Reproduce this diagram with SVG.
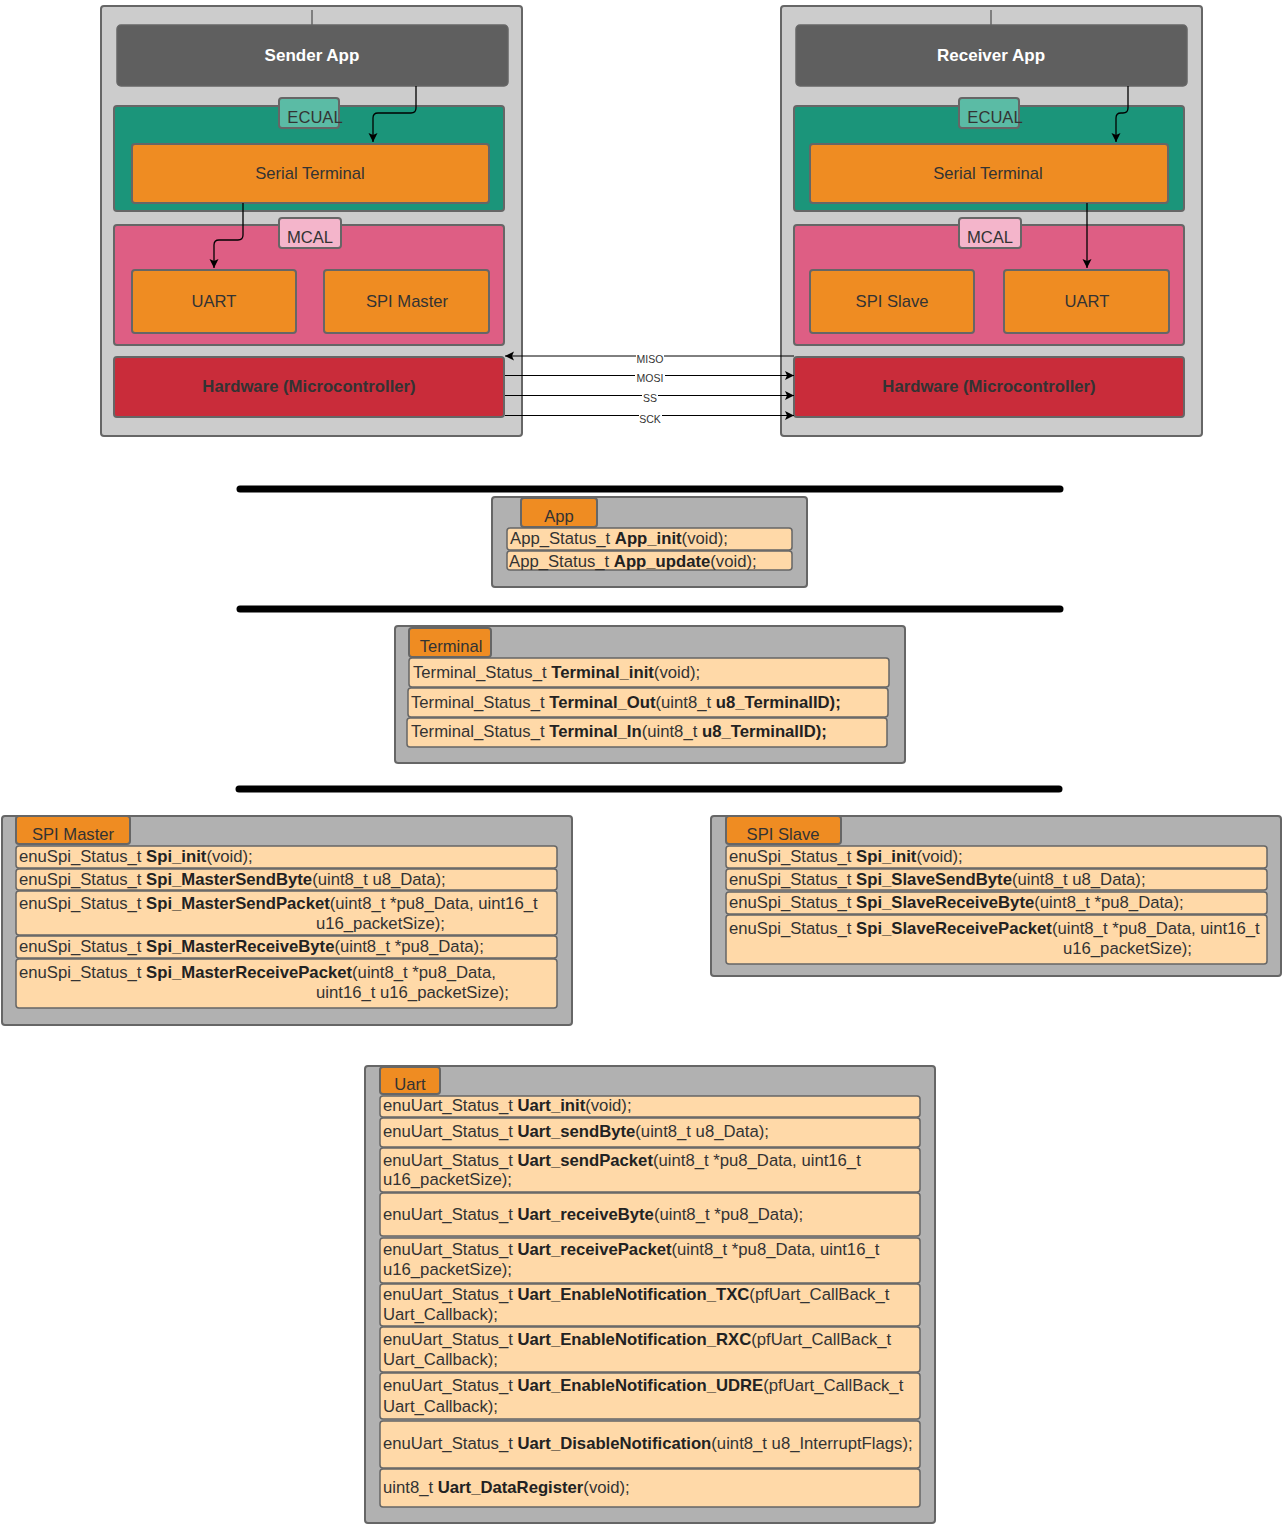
<svg xmlns="http://www.w3.org/2000/svg" width="1283" height="1525" viewBox="0 0 1283 1525">
  <defs>
    <style>
      text { font-family: "Liberation Sans", Arial, Helvetica, sans-serif; fill: #333333; }
      .outer { fill: #CCCCCC; stroke: #666666; stroke-width: 2; }
      .app { fill: #5F5F5F; stroke: #666666; stroke-width: 1.5; }
      .ecual { fill: #1B957A; stroke: #666666; stroke-width: 2; }
      .ecual-tag { fill: #5BBBA5; stroke: #666666; stroke-width: 2; }
      .mcal { fill: #DE5E84; stroke: #666666; stroke-width: 2; }
      .mcal-tag { fill: #F4B5CB; stroke: #666666; stroke-width: 2; }
      .mod { fill: #EF8C22; stroke: #666666; stroke-width: 2; }
      .hw { fill: #C92C3A; stroke: #666666; stroke-width: 2; }
      .lbl { font-size: 16.6px; text-anchor: middle; }
      .title { font-size: 17px; font-weight: bold; fill: #FFFFFF; text-anchor: middle; }
      .hwtxt { font-size: 16.7px; font-weight: bold; text-anchor: middle; }
      .conn { fill: none; stroke: #000000; stroke-width: 1.3; }
      .wire { fill: none; stroke: #000000; stroke-width: 1; }
      .wlbl { font-size: 10.5px; text-anchor: middle; }
      .bar { stroke: #000000; stroke-width: 7; stroke-linecap: round; }
      .panel { fill: #B1B1B1; stroke: #666666; stroke-width: 2; }
      .tab { fill: #EF8C22; stroke: #666666; stroke-width: 2; }
      .row { fill: #FFD9A8; stroke: #666666; stroke-width: 1.5; }
      .fn { font-size: 16.7px; }
      .b { font-weight: bold; fill: #222222; }
      .tabtxt { font-size: 16.6px; text-anchor: middle; }
    </style>
    <marker id="arr" markerUnits="userSpaceOnUse" markerWidth="10" markerHeight="10" refX="9" refY="5" orient="auto">
      <path d="M0,0.5 L9,5 L0,9.5 L2,5 Z" fill="#000000"/>
    </marker>
  </defs>

  <!-- Sender side -->
  <g id="sender">
    <rect class="outer" x="101" y="6" width="421" height="430" rx="3"/>
    <line x1="312" y1="10" x2="312" y2="25" stroke="#666666" stroke-width="1.5"/>
    <rect class="app" x="117" y="25" width="391" height="61" rx="4"/>
    <text class="title" x="312" y="61">Sender App</text>
    <rect class="ecual" x="114" y="106" width="390" height="105" rx="3"/>
    <rect class="ecual-tag" x="279" y="98" width="60" height="30" rx="3"/>
    <text class="lbl" x="315" y="123">ECUAL</text>
    <rect class="mod" x="132" y="144" width="357" height="59" rx="3"/>
    <text class="lbl" x="310" y="179">Serial Terminal</text>
    <rect class="mcal" x="114" y="225" width="390" height="120" rx="3"/>
    <rect class="mcal-tag" x="279" y="218" width="62" height="30" rx="3"/>
    <text class="lbl" x="310" y="243">MCAL</text>
    <rect class="mod" x="132" y="270" width="164" height="63" rx="3"/>
    <text class="lbl" x="214" y="307">UART</text>
    <rect class="mod" x="324" y="270" width="165" height="63" rx="3"/>
    <text class="lbl" x="407" y="307">SPI Master</text>
    <rect class="hw" x="114" y="357" width="390" height="60" rx="3"/>
    <text class="hwtxt" x="309" y="392">Hardware (Microcontroller)</text>
  </g>

  <!-- Receiver side -->
  <g id="receiver">
    <rect class="outer" x="781" y="6" width="421" height="430" rx="3"/>
    <line x1="991" y1="10" x2="991" y2="25" stroke="#666666" stroke-width="1.5"/>
    <rect class="app" x="796" y="25" width="391" height="61" rx="4"/>
    <text class="title" x="991" y="61">Receiver App</text>
    <rect class="ecual" x="794" y="106" width="390" height="105" rx="3"/>
    <rect class="ecual-tag" x="959" y="98" width="60" height="30" rx="3"/>
    <text class="lbl" x="995" y="123">ECUAL</text>
    <rect class="mod" x="810" y="144" width="358" height="59" rx="3"/>
    <text class="lbl" x="988" y="179">Serial Terminal</text>
    <rect class="mcal" x="794" y="225" width="390" height="120" rx="3"/>
    <rect class="mcal-tag" x="959" y="218" width="62" height="30" rx="3"/>
    <text class="lbl" x="990" y="243">MCAL</text>
    <rect class="mod" x="810" y="270" width="164" height="63" rx="3"/>
    <text class="lbl" x="892" y="307">SPI Slave</text>
    <rect class="mod" x="1004" y="270" width="165" height="63" rx="3"/>
    <text class="lbl" x="1087" y="307">UART</text>
    <rect class="hw" x="794" y="357" width="390" height="60" rx="3"/>
    <text class="hwtxt" x="989" y="392">Hardware (Microcontroller)</text>
  </g>

  <!-- Connectors -->
  <g id="connectors">
    <path class="conn" d="M416 86 V108 Q416 113 411 113 H378 Q373 113 373 118 V142" marker-end="url(#arr)"/>
    <path class="conn" d="M243 203 V235 Q243 240 238 240 H219 Q214 240 214 245 V268" marker-end="url(#arr)"/>
    <path class="conn" d="M1128 86 V108 Q1128 113 1123 113 H1121 Q1116 113 1116 118 V142" marker-end="url(#arr)"/>
    <path class="conn" d="M1087 203 V268" marker-end="url(#arr)"/>

    <path class="wire" d="M794 356 H505" marker-end="url(#arr)"/>
    <path class="wire" d="M505 375.5 H794" marker-end="url(#arr)"/>
    <path class="wire" d="M505 395.5 H794" marker-end="url(#arr)"/>
    <path class="wire" d="M505 415.5 H794" marker-end="url(#arr)"/>
    <rect x="636" y="352" width="28" height="12" fill="#FFFFFF"/>
    <text class="wlbl" x="650" y="362.5">MISO</text>
    <rect x="635" y="372" width="30" height="12" fill="#FFFFFF"/>
    <text class="wlbl" x="650" y="381.5">MOSI</text>
    <rect x="642" y="392" width="16" height="12" fill="#FFFFFF"/>
    <text class="wlbl" x="650" y="401.5">SS</text>
    <rect x="639" y="413" width="23" height="12" fill="#FFFFFF"/>
    <text class="wlbl" x="650" y="422.5">SCK</text>
  </g>

  <!-- Layer separators -->
  <g id="separators">
    <line class="bar" x1="240" y1="489" x2="1060" y2="489"/>
    <line class="bar" x1="240" y1="609" x2="1060" y2="609"/>
    <line class="bar" x1="239" y1="789" x2="1059" y2="789"/>
  </g>

  <!-- App API -->
  <g id="api-app">
    <rect class="panel" x="492" y="497" width="315" height="90" rx="3"/>
    <rect class="tab" x="521" y="498" width="76" height="29" rx="3"/>
    <text class="tabtxt" x="559" y="522">App</text>
    <rect class="row" x="507" y="528" width="285" height="22" rx="3"/>
    <text class="fn" x="510" y="544">App_Status_t <tspan class="b">App_init</tspan>(void);</text>
    <rect class="row" x="507" y="551" width="285" height="19" rx="3"/>
    <text class="fn" x="509" y="567">App_Status_t <tspan class="b">App_update</tspan>(void);</text>
  </g>

  <!-- Terminal API -->
  <g id="api-terminal">
    <rect class="panel" x="395" y="626" width="510" height="137" rx="3"/>
    <rect class="tab" x="409" y="628" width="82" height="29" rx="3"/>
    <text class="tabtxt" x="451" y="652">Terminal</text>
    <rect class="row" x="409" y="658" width="480" height="29" rx="3"/>
    <text class="fn" x="413" y="678">Terminal_Status_t <tspan class="b">Terminal_init</tspan>(void);</text>
    <rect class="row" x="408" y="688" width="480" height="29" rx="3"/>
    <text class="fn" x="411" y="708">Terminal_Status_t <tspan class="b">Terminal_Out</tspan>(uint8_t <tspan class="b">u8_TerminalID);</tspan></text>
    <rect class="row" x="407" y="718" width="480" height="29" rx="3"/>
    <text class="fn" x="411" y="737">Terminal_Status_t <tspan class="b">Terminal_In</tspan>(uint8_t <tspan class="b">u8_TerminalID);</tspan></text>
  </g>

  <!-- SPI Master API -->
  <g id="api-spi-master">
    <rect class="panel" x="2" y="816" width="570" height="209" rx="3"/>
    <rect class="tab" x="16" y="816" width="114" height="28" rx="3"/>
    <text class="tabtxt" x="73" y="840">SPI Master</text>
    <rect class="row" x="16" y="846" width="541" height="22" rx="3"/>
    <text class="fn" x="19" y="862">enuSpi_Status_t <tspan class="b">Spi_init</tspan>(void);</text>
    <rect class="row" x="16" y="869" width="541" height="21" rx="3"/>
    <text class="fn" x="19" y="885">enuSpi_Status_t <tspan class="b">Spi_MasterSendByte</tspan>(uint8_t u8_Data);</text>
    <rect class="row" x="16" y="891" width="541" height="44" rx="3"/>
    <text class="fn" x="19" y="909">enuSpi_Status_t <tspan class="b">Spi_MasterSendPacket</tspan>(uint8_t *pu8_Data, uint16_t</text>
    <text class="fn" x="316" y="929">u16_packetSize);</text>
    <rect class="row" x="16" y="936" width="541" height="22" rx="3"/>
    <text class="fn" x="19" y="952">enuSpi_Status_t <tspan class="b">Spi_MasterReceiveByte</tspan>(uint8_t *pu8_Data);</text>
    <rect class="row" x="16" y="959" width="541" height="49" rx="3"/>
    <text class="fn" x="19" y="978">enuSpi_Status_t <tspan class="b">Spi_MasterReceivePacket</tspan>(uint8_t *pu8_Data,</text>
    <text class="fn" x="316" y="998">uint16_t u16_packetSize);</text>
  </g>

  <!-- SPI Slave API -->
  <g id="api-spi-slave">
    <rect class="panel" x="711" y="816" width="570" height="160" rx="3"/>
    <rect class="tab" x="726" y="816" width="115" height="28" rx="3"/>
    <text class="tabtxt" x="783" y="840">SPI Slave</text>
    <rect class="row" x="726" y="846" width="541" height="22" rx="3"/>
    <text class="fn" x="729" y="862">enuSpi_Status_t <tspan class="b">Spi_init</tspan>(void);</text>
    <rect class="row" x="726" y="869" width="541" height="21" rx="3"/>
    <text class="fn" x="729" y="885">enuSpi_Status_t <tspan class="b">Spi_SlaveSendByte</tspan>(uint8_t u8_Data);</text>
    <rect class="row" x="726" y="892" width="541" height="22" rx="3"/>
    <text class="fn" x="729" y="908">enuSpi_Status_t <tspan class="b">Spi_SlaveReceiveByte</tspan>(uint8_t *pu8_Data);</text>
    <rect class="row" x="726" y="915" width="541" height="49" rx="3"/>
    <text class="fn" x="729" y="934">enuSpi_Status_t <tspan class="b">Spi_SlaveReceivePacket</tspan>(uint8_t *pu8_Data, uint16_t</text>
    <text class="fn" x="1063" y="954">u16_packetSize);</text>
  </g>

  <!-- Uart API -->
  <g id="api-uart">
    <rect class="panel" x="365" y="1066" width="570" height="457" rx="3"/>
    <rect class="tab" x="380" y="1067" width="60" height="27" rx="3"/>
    <text class="tabtxt" x="410" y="1090">Uart</text>
    <rect class="row" x="380" y="1096" width="540" height="21" rx="3"/>
    <text class="fn" x="383" y="1111">enuUart_Status_t <tspan class="b">Uart_init</tspan>(void);</text>
    <rect class="row" x="380" y="1118" width="540" height="29" rx="3"/>
    <text class="fn" x="383" y="1137">enuUart_Status_t <tspan class="b">Uart_sendByte</tspan>(uint8_t u8_Data);</text>
    <rect class="row" x="380" y="1148" width="540" height="44" rx="3"/>
    <text class="fn" x="383" y="1166">enuUart_Status_t <tspan class="b">Uart_sendPacket</tspan>(uint8_t *pu8_Data, uint16_t</text>
    <text class="fn" x="383" y="1185">u16_packetSize);</text>
    <rect class="row" x="380" y="1193" width="540" height="43" rx="3"/>
    <text class="fn" x="383" y="1220">enuUart_Status_t <tspan class="b">Uart_receiveByte</tspan>(uint8_t *pu8_Data);</text>
    <rect class="row" x="380" y="1238" width="540" height="45" rx="3"/>
    <text class="fn" x="383" y="1255">enuUart_Status_t <tspan class="b">Uart_receivePacket</tspan>(uint8_t *pu8_Data, uint16_t</text>
    <text class="fn" x="383" y="1275">u16_packetSize);</text>
    <rect class="row" x="380" y="1284" width="540" height="42" rx="3"/>
    <text class="fn" x="383" y="1300">enuUart_Status_t <tspan class="b">Uart_EnableNotification_TXC</tspan>(pfUart_CallBack_t</text>
    <text class="fn" x="383" y="1320">Uart_Callback);</text>
    <rect class="row" x="380" y="1327" width="540" height="45" rx="3"/>
    <text class="fn" x="383" y="1345">enuUart_Status_t <tspan class="b">Uart_EnableNotification_RXC</tspan>(pfUart_CallBack_t</text>
    <text class="fn" x="383" y="1365">Uart_Callback);</text>
    <rect class="row" x="380" y="1373" width="540" height="46" rx="3"/>
    <text class="fn" x="383" y="1391">enuUart_Status_t <tspan class="b">Uart_EnableNotification_UDRE</tspan>(pfUart_CallBack_t</text>
    <text class="fn" x="383" y="1412">Uart_Callback);</text>
    <rect class="row" x="380" y="1421" width="540" height="47" rx="3"/>
    <text class="fn" x="383" y="1449">enuUart_Status_t <tspan class="b">Uart_DisableNotification</tspan>(uint8_t u8_InterruptFlags);</text>
    <rect class="row" x="380" y="1469" width="540" height="38" rx="3"/>
    <text class="fn" x="383" y="1493">uint8_t <tspan class="b">Uart_DataRegister</tspan>(void);</text>
  </g>
</svg>
